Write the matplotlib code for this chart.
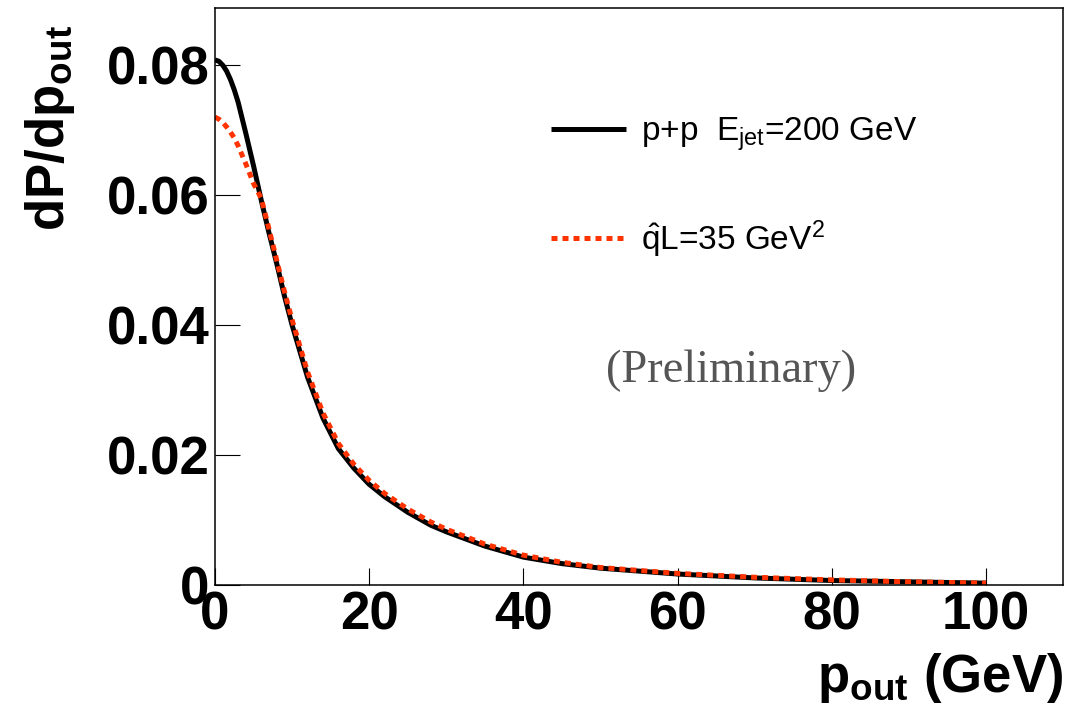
import matplotlib
matplotlib.use("Agg")
import matplotlib.pyplot as plt

plt.rcParams['font.family'] = ['Liberation Sans', 'DejaVu Sans']
plt.rcParams['mathtext.fontset'] = 'custom'
plt.rcParams['mathtext.rm'] = 'Liberation Sans'
plt.rcParams['mathtext.it'] = 'Liberation Sans:italic'
plt.rcParams['mathtext.bf'] = 'Liberation Sans:bold'

# p_out (GeV)
pout = [0, 0.5, 1, 1.5, 2, 2.5, 3, 4, 5, 6, 7, 8, 9, 10, 12, 14, 16, 18, 20, 22,
        25, 28, 30, 35, 40, 45, 50, 60, 70, 80, 90, 100]
# p+p, E_jet = 200 GeV
dp_pp = [0.0808, 0.0806, 0.0800, 0.0791, 0.0778, 0.0762, 0.0743, 0.0695, 0.0645,
         0.0592, 0.0542, 0.0495, 0.0445, 0.0400, 0.0320, 0.0257, 0.0210, 0.0180,
         0.0155, 0.0136, 0.0112, 0.0092, 0.0082, 0.0060, 0.0043, 0.0033, 0.0026,
         0.0017, 0.0011, 0.0007, 0.0005, 0.0003]
# qhat L = 35 GeV^2
dp_med = [0.0720, 0.0717, 0.0712, 0.0705, 0.0697, 0.0688, 0.0676, 0.0648, 0.0618,
          0.0595, 0.0548, 0.0500, 0.0452, 0.0408, 0.0328, 0.0265, 0.0218, 0.0186,
          0.0161, 0.0141, 0.0117, 0.0097, 0.0086, 0.0063, 0.0046, 0.0035, 0.0027,
          0.0018, 0.0012, 0.0008, 0.0005, 0.0003]

yticks = [0, 0.02, 0.04, 0.06, 0.08]
ytick_labels = ['0', '0.02', '0.04', '0.06', '0.08']
xticks = [0, 20, 40, 60, 80, 100]

fig = plt.figure(figsize=(10.75, 7.25), dpi=100)
ax = fig.add_axes([0.2, 0.193, 0.789, 0.796])

ax.plot(pout, dp_pp, color='black', lw=3.6, solid_capstyle='butt',
        label=r'p+p  E$_{\mathrm{jet}}$=200 GeV')
ax.plot(pout, dp_med, color='#ff3300', lw=3.6, linestyle=(0, (1.2, 1.0)),
        dash_capstyle='butt', label=r'$\mathrm{\hat{q}L}$=35 GeV$^{2}$')

ax.set_xlim(0, 110)
ax.set_ylim(0, 0.0888)
ax.set_xticks(xticks)
ax.set_yticks(yticks)
ax.set_yticklabels(ytick_labels)
for lab in ax.get_xticklabels() + ax.get_yticklabels():
    lab.set_fontweight('bold')
    lab.set_fontsize(38)

ax.tick_params(axis='y', direction='in', length=18, width=0.8, pad=4)
ax.tick_params(axis='x', direction='in', length=12, width=0.8, pad=4)
for s in ax.spines.values():
    s.set_linewidth(1.1)

ax.set_xlabel(r'$\mathbf{p_{out}}$ (GeV)', fontsize=38, fontweight='bold', ha='right')
ax.xaxis.set_label_coords(1.0, -0.115)
ax.set_ylabel(r'$\mathbf{dP/dp_{out}}$', fontsize=38, fontweight='bold')
ax.yaxis.label.set_verticalalignment('center')
ax.yaxis.label.set_horizontalalignment('right')
ax.yaxis.set_label_coords(-0.195, 0.97)

ax.text(66.9, 0.0312, '(Preliminary)', family='Liberation Serif', fontsize=33.5,
        color='#555555', ha='center', va='baseline')

ax.legend(loc='upper left', bbox_to_anchor=(0.377, 0.842), frameon=False, fontsize=24,
          handlelength=2.25, handletextpad=0.45, labelspacing=1.95, borderpad=0)

fig.savefig('out.png', dpi=100)
